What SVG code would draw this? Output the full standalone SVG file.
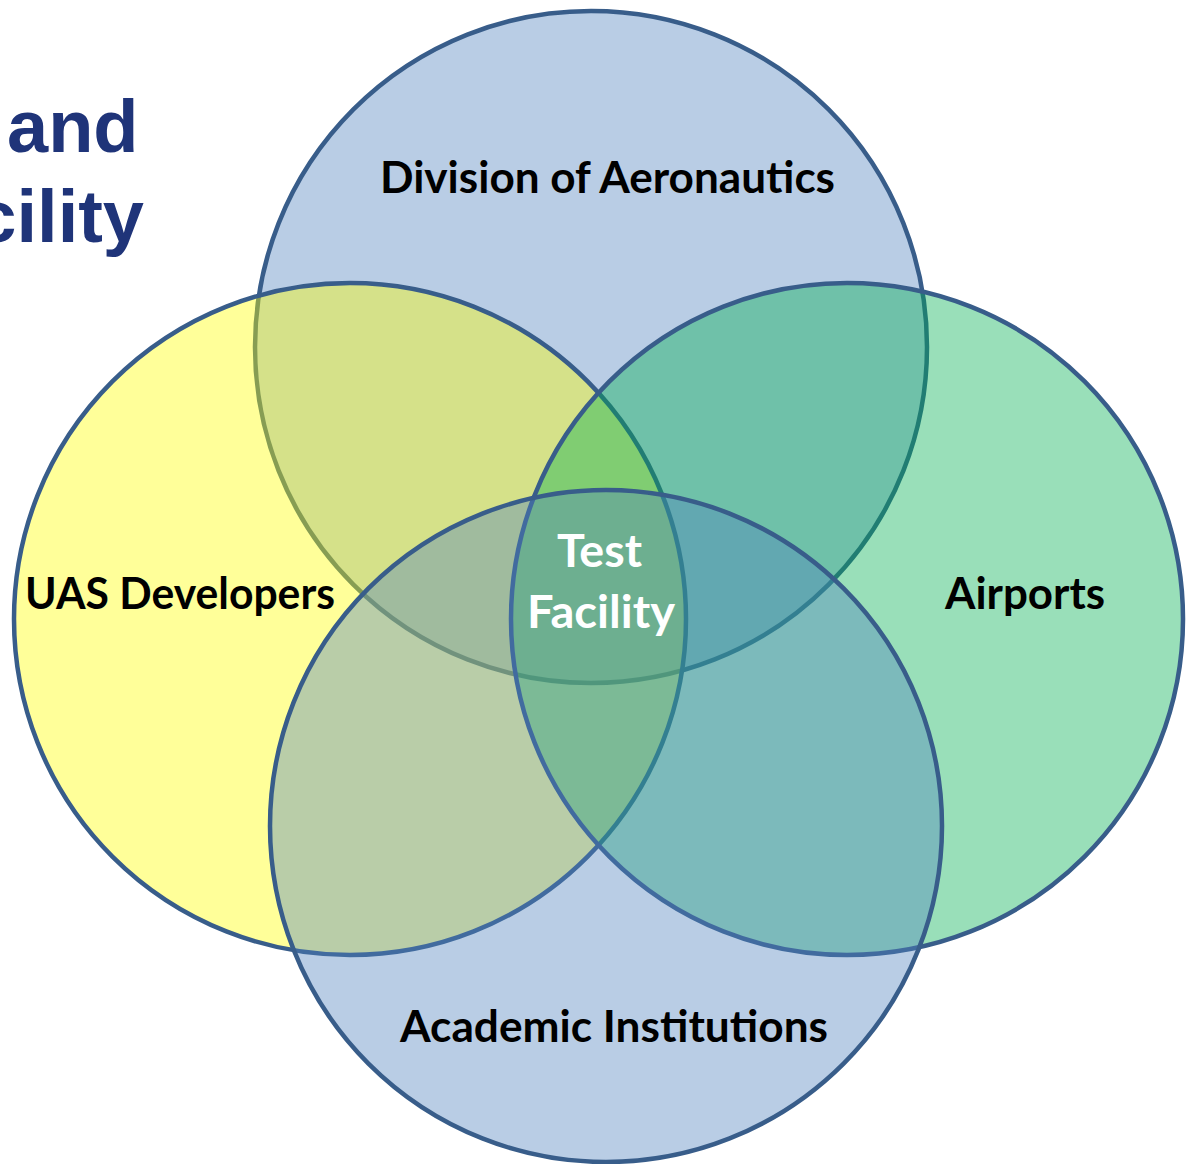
<svg xmlns="http://www.w3.org/2000/svg" width="1193" height="1164" viewBox="0 0 1193 1164">
<style>
.c{stroke:#385D8A;stroke-width:4.5;fill-opacity:0.4}
.lbl{font-family:Lato,"Open Sans","Liberation Sans",sans-serif;font-weight:bold;fill:#000;font-size:43px}
.w{fill:#fff;font-size:46px}
.title{font-family:"Liberation Sans",Arial,sans-serif;font-weight:bold;fill:#1F3479;font-size:74px}
</style>
<rect width="1193" height="1164" fill="#fff"/>
<g id="title">
<text class="title" x="7" y="152">and</text>
<text class="title" x="144" y="242" text-anchor="end">cility</text>
</g>
<g id="division"><circle class="c" cx="591" cy="347" r="336" fill="#4F81BD"/></g>
<g id="uas"><circle class="c" cx="350" cy="619" r="336" fill="#FFFF00"/></g>
<g id="airports"><circle class="c" cx="847" cy="619" r="336" fill="#00B050"/></g>
<g id="academic"><circle class="c" cx="606" cy="826" r="336" fill="#4F81BD"/></g>
<g id="labels">
<text class="lbl" x="380" y="193" textLength="455" lengthAdjust="spacingAndGlyphs">Division of Aeronautics</text>
<text class="lbl" x="25" y="609" textLength="310" lengthAdjust="spacingAndGlyphs">UAS Developers</text>
<text class="lbl" x="945" y="609" textLength="160" lengthAdjust="spacingAndGlyphs">Airports</text>
<text class="lbl" x="400" y="1042" textLength="428" lengthAdjust="spacingAndGlyphs">Academic Institutions</text>
<text class="lbl w" x="557" y="567" textLength="85" lengthAdjust="spacingAndGlyphs">Test</text>
<text class="lbl w" x="527" y="628" textLength="148" lengthAdjust="spacingAndGlyphs">Facility</text>
</g>
<g id="connectors"/>
</svg>
